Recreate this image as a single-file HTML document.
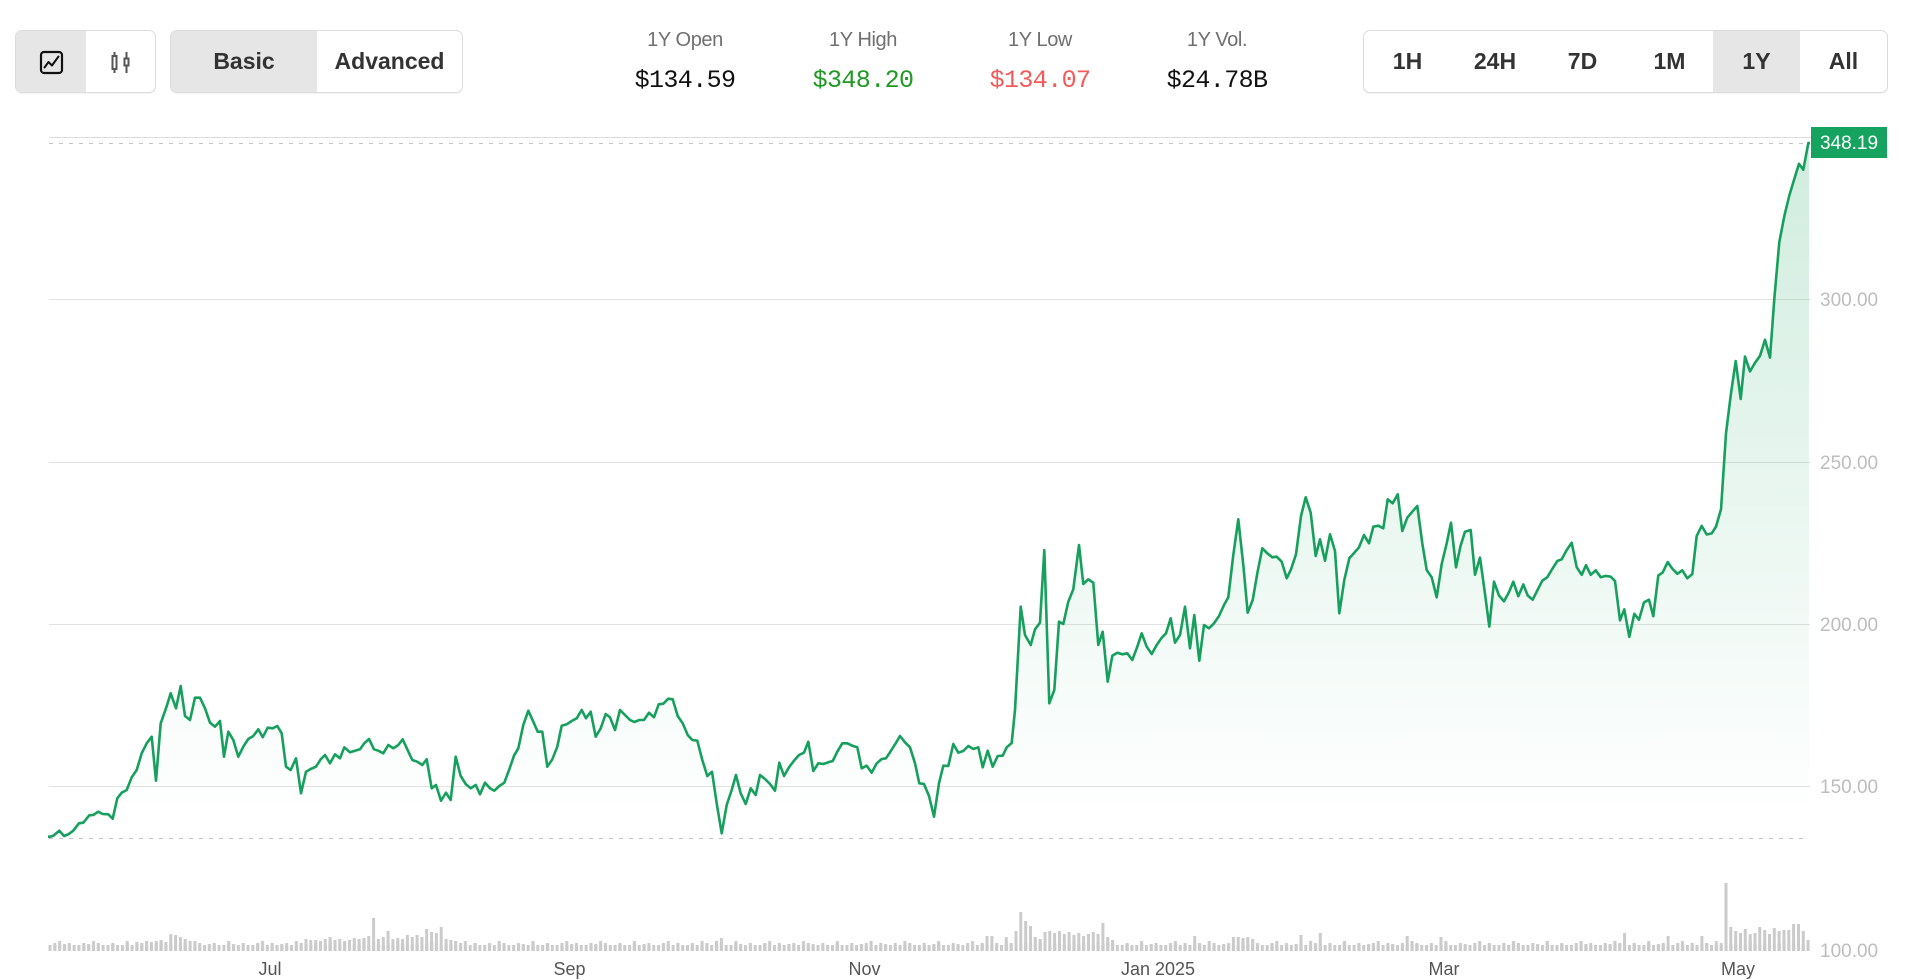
<!DOCTYPE html>
<html>
<head>
<meta charset="utf-8">
<style>
  html,body{margin:0;padding:0;background:#fff;}
  body{width:1920px;height:980px;position:relative;overflow:hidden;font-family:"Liberation Sans",Arial,sans-serif;}
  .grp{position:absolute;top:30px;height:61px;border:1px solid #dcdcdc;border-radius:7px;background:#fff;overflow:hidden;box-shadow:0 1px 1px rgba(0,0,0,0.05);}
  .sel{position:absolute;top:0;height:100%;background:#e6e6e6;}
  .btn{position:absolute;top:0;height:61px;line-height:61px;text-align:center;font-weight:bold;font-size:23px;color:#333;}
  .lab{position:absolute;top:28px;height:24px;line-height:24px;width:200px;text-align:center;font-size:20px;letter-spacing:-0.4px;color:#707070;}
  .val{position:absolute;top:66px;height:30px;line-height:30px;width:200px;text-align:center;font-family:"Liberation Mono",monospace;font-size:25px;letter-spacing:-0.6px;color:#111;}
  svg{position:absolute;left:0;top:0;}
</style>
</head>
<body>
<svg width="1920" height="980" viewBox="0 0 1920 980" xmlns="http://www.w3.org/2000/svg" xmlns:xlink="http://www.w3.org/1999/xlink">
  <defs>
    <linearGradient id="fillg" gradientUnits="userSpaceOnUse" x1="0" y1="143" x2="0" y2="820">
      <stop offset="0" stop-color="#16a35f" stop-opacity="0.2"/>
      <stop offset="1" stop-color="#16a35f" stop-opacity="0"/>
    </linearGradient>
    <clipPath id="lineclip"><rect x="48" y="0" width="1762" height="949"/></clipPath>
    <clipPath id="fillclip"><rect x="50" y="0" width="1759" height="952"/></clipPath>
    <pattern id="pA" patternUnits="userSpaceOnUse" x="48.5" y="930" width="4.83" height="21"><rect x="0" y="15" width="3" height="6" fill="#cbcbcb"/></pattern>
    <pattern id="pB" patternUnits="userSpaceOnUse" x="48.5" y="930" width="14.49" height="21"><rect x="4.83" y="13" width="3" height="8" fill="#cbcbcb"/></pattern>
    <pattern id="pC" patternUnits="userSpaceOnUse" x="48.5" y="930" width="33.81" height="21"><rect x="9.66" y="11" width="3" height="10" fill="#cbcbcb"/></pattern>
    <pattern id="pD" patternUnits="userSpaceOnUse" x="48.5" y="930" width="24.15" height="21"><rect x="14.49" y="14" width="3" height="7" fill="#cbcbcb"/></pattern>
    <path id="area" d="M50,836.7 53.3,835.7 59.3,830.7 64,836 68.3,834.3 73.3,830.7 79,823.3 83.3,822.7 89.3,815.3 93.3,815 98.3,811.7 102.7,814 108.3,814.3 112.7,818.7 117.3,798.3 121.7,792.7 126.7,790 131.7,777.3 136.7,770 141.7,753.3 146.7,743.3 151.7,736.7 156,780.7 160.7,723.3 166,708.3 170.7,693.3 176,708.3 180.7,686 185,716 190,720 195,697.7 200,697.7 205,708.3 210,722.7 215,726.7 220,721 224,756.7 228.3,731.7 233.3,740 238.3,756.7 243.3,746.7 248.3,739 253.3,736 258.3,729.3 262.7,737.3 267.7,727.7 272.7,728.3 277.3,726 281.7,733.3 286,766.7 290.7,770 296,758.3 301,793.3 306,771.7 310.7,769 316,766.7 320.7,759.3 325,755 330,763.3 335,754.3 340,758.3 344.3,747.3 350,752.3 355,750.7 360,749.3 364.3,743.3 369,739 374,749.3 378.3,750.7 383.3,753.3 388.3,745 393.3,748.3 398.3,745 402.7,739.3 407.3,749.3 412.3,760 417.3,761.7 422.3,765 426.7,759.3 431.7,788.3 436,785 441,800.7 446,792.7 450.7,800 455.7,756.7 460.7,776 465.7,784 470.7,788.3 475.7,785 480,794.3 485,782.7 490,788.3 494.3,790.7 499.3,786 504.3,782.7 509.3,769.3 514,755.7 518.3,748.3 523.3,725 528.3,710.7 533.3,721.7 537.7,731.7 542.3,731.7 547.3,766.7 552.3,759.3 557.3,746.7 561.7,725.7 566.7,724.3 571.7,721 576.7,718.3 581.7,710 586,718.3 590.7,711.7 595.7,736.7 600.7,728.3 605.7,714 610,717.3 615,730 620,710 625,715 630,720 634.3,722 639.3,720 644,720 649,712.7 654,717.3 658.7,704.3 663.3,703.7 668.3,698.7 672.7,699.3 677.7,716 682.7,723.3 687.7,735 692.3,740 697.3,740.7 702.3,760 707.3,776 712,771.7 716.7,803.3 721.7,833.3 726.7,805 731.7,790 736,775 740.7,793.3 745.7,804 750.7,788.3 755.7,795 760,775 765,779 770,784 775,790.7 779.3,762.7 784,776 789,767.3 794,760.7 799,755 804,752.7 808.3,741.7 813.3,771 818.3,763.3 823.3,764 828.3,762.3 832.7,761 837.3,751.7 842.3,743.3 847.3,743.3 852.3,745.7 857.3,747.3 861.7,768.3 866.7,765.7 871.7,772.7 876.7,763.3 881.7,759 886,758.3 891,750.7 895.7,743.3 900,736 905,742.3 910,747.3 915,763.3 919.3,783.3 924,784 929,796 934,816.7 939,783.3 943.3,765.7 948.3,766 953.3,744 958.3,752.7 963.3,751 968.3,746 973.3,749 978.3,747.3 982.7,767.3 987.7,750.7 992.7,766.7 997.7,756 1002.7,755.7 1006.7,747.3 1011.7,743 1015,710 1020.7,606.7 1025,635 1030.7,645 1035,629.3 1040,622.7 1044.3,550 1049.3,703.3 1054.3,690 1059,621.7 1063.3,624 1068.3,601.7 1073.3,589.3 1079,545 1083.3,584 1088.3,579.3 1093.3,582.7 1098.3,645 1102.7,631.7 1107.7,681.7 1112.3,655.7 1117.3,652.7 1122.3,654.3 1127.3,653.3 1132.3,660 1137.3,646.7 1141.7,633.3 1146.7,646.7 1151.7,654 1156.7,645 1161.7,637.7 1166,633.3 1170.7,618.3 1175,642.7 1180,635 1185,606.7 1190,648.3 1194.3,615 1199.3,660.7 1204,625 1209,628.3 1214,623.3 1219,616 1224,605 1228.3,597.3 1233.3,555 1238.3,519.3 1243.3,565 1247.7,612.7 1252.7,600 1257.3,573.3 1262.3,548.3 1267.3,553.3 1272.3,557.3 1276.7,556.7 1281.7,561.7 1286.7,578.3 1291,569.3 1296,554.3 1301,516 1305.7,497.3 1310.7,512.7 1315.7,556 1320,539.3 1325,560.7 1330,534.3 1335,551 1339.3,613.3 1344.3,580 1349.3,558.3 1354.3,552.7 1359,547.3 1364,535 1369,543.3 1373.3,526.7 1378.3,525.7 1383.3,528.3 1387.7,499.3 1392.7,503.3 1397.7,494.3 1402.3,531 1407.3,517.7 1412.3,511.7 1417.3,506 1422.3,543.3 1426.7,570 1431.7,577.3 1436.7,597.3 1441.7,564 1446.7,543.3 1451,522.7 1456,567.3 1460.5,546 1465,531.7 1470.7,530 1475,574.8 1480,557.6 1485,593.8 1489.3,626.6 1494,581.7 1499,595.5 1504,601.4 1509,592.1 1513.3,581.7 1518.3,596.2 1523.3,584.5 1527.7,595.5 1532.7,599.7 1537.7,589.7 1542.3,580.7 1547.3,577.2 1552.3,568.9 1557.3,561 1561.7,559.3 1566.7,550 1571.7,542.8 1576.7,567.2 1581.7,574.8 1586,565.2 1590.7,574.8 1595.7,570.3 1600.7,577.2 1605.7,575.9 1610.7,576.6 1615,581 1620,620.3 1624.3,609.3 1629.3,636.9 1634.3,613.8 1639,619.7 1644,602.4 1649,599.7 1653.3,616.2 1658.3,575.5 1662.7,572.4 1667.7,562.1 1672.3,568.6 1677.3,573.8 1682.3,570.3 1687.3,578.3 1692.3,574.1 1696.7,535.9 1701.7,525.9 1706.7,534.5 1711.7,533.4 1716,526.6 1721,509.3 1726,433.4 1730.7,395.5 1735.7,361 1740.7,399 1745,356.6 1750,371.4 1755,362.8 1760,355.9 1765,339.7 1770,357.6 1774.3,299 1779.3,242.1 1784.3,216.2 1789.3,195.5 1794,180 1799,163.8 1803.3,169.7 1808.3,143.1 L1814,143.1 L1814,955 L44,955 L44,836.7 Z"/>
  </defs>

  <line x1="49" y1="137.5" x2="1887" y2="137.5" stroke="#dedede" stroke-width="1"/>
  <line x1="49" y1="299.5" x2="1810" y2="299.5" stroke="#e2e2e2" stroke-width="1"/>
  <line x1="49" y1="462.5" x2="1810" y2="462.5" stroke="#e2e2e2" stroke-width="1"/>
  <line x1="49" y1="624.5" x2="1810" y2="624.5" stroke="#e2e2e2" stroke-width="1"/>
  <line x1="49" y1="786.5" x2="1810" y2="786.5" stroke="#e2e2e2" stroke-width="1"/>
  <line x1="49" y1="143.5" x2="1808" y2="143.5" stroke="#c4c4c4" stroke-width="1" stroke-dasharray="4 6"/>
  <line x1="49" y1="838.5" x2="1808" y2="838.5" stroke="#c4c4c4" stroke-width="1" stroke-dasharray="4 6"/>

  <use xlink:href="#area" href="#area" fill="url(#fillg)" stroke="none" clip-path="url(#fillclip)"/>

  <rect x="48.5" y="930" width="1761" height="21" fill="url(#pA)"/>
  <rect x="48.5" y="930" width="1761" height="21" fill="url(#pB)"/>
  <rect x="48.5" y="930" width="1761" height="21" fill="url(#pC)"/>
  <rect x="48.5" y="930" width="1761" height="21" fill="url(#pD)"/>
  <path fill="none" stroke="#cbcbcb" stroke-width="3" d="M136.9 951v-9M141.8 951v-8M146.6 951v-10M151.4 951v-9M156.3 951v-10M161.1 951v-11M165.9 951v-9M170.8 951v-17M175.6 951v-16M180.4 951v-14M185.2 951v-12M190.1 951v-10M306 951v-12M310.8 951v-11M315.7 951v-11M320.5 951v-10M325.3 951v-12M330.1 951v-14M335 951v-11M339.8 951v-12M344.6 951v-10M349.5 951v-11M354.3 951v-13M359.1 951v-12M364 951v-13M368.8 951v-15M373.6 951v-33M378.4 951v-12M383.3 951v-14M388.1 951v-20M392.9 951v-12M397.8 951v-13M402.6 951v-12M407.4 951v-16M412.3 951v-14M417.1 951v-16M421.9 951v-14M426.7 951v-22M431.6 951v-19M436.4 951v-18M441.2 951v-24M446.1 951v-12M450.9 951v-11M455.7 951v-10M716.5 951v-10M721.4 951v-13M987 951v-15M991.9 951v-15M1006.3 951v-14M1016 951v-20M1020.8 951v-39M1025.7 951v-30M1030.5 951v-25M1035.3 951v-14M1040.2 951v-12M1045 951v-19M1049.8 951v-20M1054.6 951v-18M1059.5 951v-20M1064.3 951v-17M1069.1 951v-19M1074 951v-16M1078.8 951v-18M1083.6 951v-15M1088.5 951v-17M1093.3 951v-19M1098.1 951v-17M1102.9 951v-28M1107.8 951v-14M1112.6 951v-11M1194.7 951v-15M1233.4 951v-14M1238.2 951v-14M1243 951v-13M1247.8 951v-14M1252.7 951v-12M1301 951v-16M1320.3 951v-18M1407.2 951v-15M1441 951v-14M1624.6 951v-18M1668.1 951v-15M1701.9 951v-15M1726 951v-68M1730.8 951v-24M1735.7 951v-20M1740.5 951v-18M1745.3 951v-22M1750.2 951v-17M1755 951v-18M1759.8 951v-24M1764.7 951v-21M1769.5 951v-17M1774.3 951v-23M1779.1 951v-20M1784 951v-21M1788.8 951v-21M1793.6 951v-27M1798.5 951v-27M1803.3 951v-20M1808.1 951v-11"/>

  <use xlink:href="#area" href="#area" fill="none" stroke="#17a05d" stroke-width="2.6" stroke-linejoin="round" stroke-linecap="round" clip-path="url(#lineclip)"/>

  <g font-family="Liberation Sans, Arial, sans-serif" font-size="19" fill="#bdbdbd">
    <text x="1820" y="306">300.00</text>
    <text x="1820" y="469">250.00</text>
    <text x="1820" y="631">200.00</text>
    <text x="1820" y="793">150.00</text>
    <text x="1820" y="957">100.00</text>
  </g>

  <rect x="1811" y="127" width="76" height="31" fill="#16a35f"/>
  <text x="1849" y="149" text-anchor="middle" font-family="Liberation Sans, Arial, sans-serif" font-size="19" fill="#ffffff">348.19</text>

  <g font-family="Liberation Sans, Arial, sans-serif" font-size="18" fill="#555" text-anchor="middle">
    <text x="270" y="975">Jul</text>
    <text x="569.5" y="975">Sep</text>
    <text x="864.5" y="975">Nov</text>
    <text x="1158" y="975">Jan 2025</text>
    <text x="1444" y="975">Mar</text>
    <text x="1738" y="975">May</text>
  </g>
</svg>

<div class="grp" style="left:15px;width:139px;">
  <div class="sel" style="left:0;width:70px;"></div>
  <svg width="139" height="61" viewBox="0 0 139 61" style="position:absolute;left:0;top:0;">
    <rect x="25" y="21" width="21" height="21" rx="3" fill="none" stroke="#111" stroke-width="2.2"/>
    <polyline points="28.5,36.5 32.5,31 36,34.5 42.5,25.5" fill="none" stroke="#111" stroke-width="2" stroke-linejoin="round" stroke-linecap="round"/>
    <line x1="98.5" y1="21" x2="98.5" y2="42" stroke="#555" stroke-width="2"/>
    <rect x="96.5" y="25" width="4" height="13" fill="#fff" stroke="#555" stroke-width="2"/>
    <line x1="110.5" y1="21" x2="110.5" y2="42" stroke="#555" stroke-width="2"/>
    <rect x="108.5" y="27.5" width="4" height="7" fill="#fff" stroke="#555" stroke-width="2"/>
  </svg>
</div>

<div class="grp" style="left:170px;width:291px;">
  <div class="sel" style="left:0;width:146px;"></div>
  <div class="btn" style="left:0;width:146px;">Basic</div>
  <div class="btn" style="left:146px;width:145px;">Advanced</div>
</div>

<div class="lab" style="left:585px;">1Y Open</div>
<div class="val" style="left:585px;">$134.59</div>
<div class="lab" style="left:763px;">1Y High</div>
<div class="val" style="left:763px;color:#1f9a22;">$348.20</div>
<div class="lab" style="left:940px;">1Y Low</div>
<div class="val" style="left:940px;color:#f25a5a;">$134.07</div>
<div class="lab" style="left:1117px;">1Y Vol.</div>
<div class="val" style="left:1117px;">$24.78B</div>

<div class="grp" style="left:1363px;width:523px;">
  <div class="sel" style="left:349px;width:87px;"></div>
  <div class="btn" style="left:0;width:87px;">1H</div>
  <div class="btn" style="left:87px;width:88px;">24H</div>
  <div class="btn" style="left:175px;width:87px;">7D</div>
  <div class="btn" style="left:262px;width:87px;">1M</div>
  <div class="btn" style="left:349px;width:87px;">1Y</div>
  <div class="btn" style="left:436px;width:87px;">All</div>
</div>
</body>
</html>
